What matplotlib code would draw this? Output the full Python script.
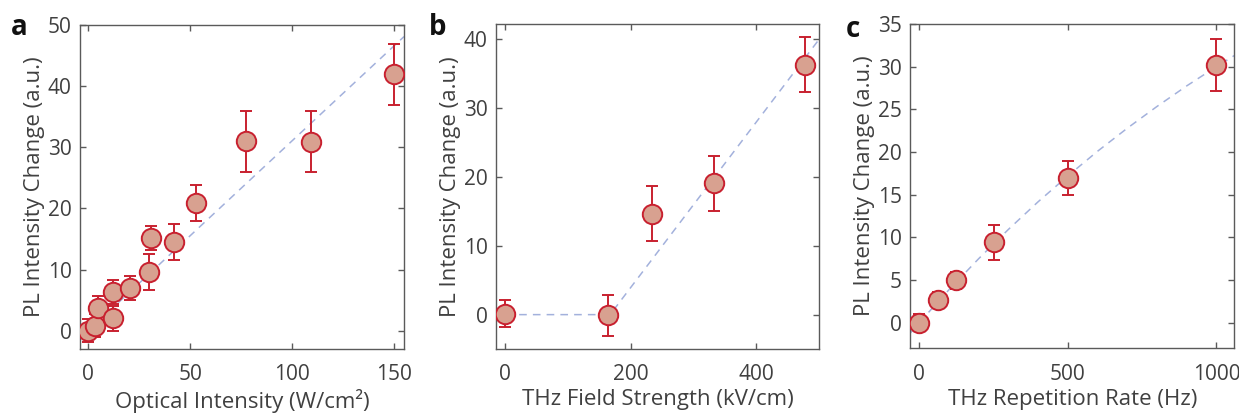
import matplotlib
matplotlib.use("Agg")
import matplotlib.pyplot as plt

plt.rcParams['font.family'] = ['Open Sans', 'DejaVu Sans']

# ---- Panel a data ----
a_x = [0, 3.4, 4.7, 12.1, 12.1, 20.4, 29.9, 30.9, 42, 52.8, 77.5, 109.2, 150]
a_y = [0.0, 0.8, 3.7, 2.0, 6.3, 7.0, 9.6, 15.2, 14.5, 20.9, 31.0, 30.9, 41.9]
a_err = [1.9, 1.9, 1.9, 2.1, 2.0, 2.0, 3.0, 2.0, 3.0, 3.0, 5.0, 5.0, 5.0]
a_fit_x = [0, 155]
a_fit_y = [0, 48.1]

# ---- Panel b data ----
b_x = [0, 163, 233, 333, 477]
b_y = [0.15, -0.1, 14.65, 19.1, 36.3]
b_err = [2.0, 3.0, 4.0, 4.0, 4.0]
b_fit_x = [0, 167, 500]
b_fit_y = [0, 0, 40]

# ---- Panel c data ----
c_x = [0, 62.5, 125, 250, 500, 1000]
c_y = [0.0, 2.66, 5.0, 9.4, 17.0, 30.2]
c_err = [1.0, 0.95, 1.0, 2.0, 2.0, 3.0]
c_fit_x = [-30, 0, 100, 200, 300, 400, 500, 600, 700, 800, 900, 1000, 1060]
c_fit_y = [-1.2, 0.0, 3.86, 7.5, 10.93, 14.17, 17.2, 20.09, 22.79, 25.34, 27.75, 30.01, 31.3]

face = '#D8A190'
edge = '#C8202F'
fitc = '#A3B1DC'
txt = '#404040'
spine = '#5A5A5A'

fig = plt.figure(figsize=(12.39, 4.16), dpi=100)

panels = [
    dict(pos=[0.0646, 0.161, 0.2615, 0.779], x=a_x, y=a_y, e=a_err, fx=a_fit_x, fy=a_fit_y,
         xlim=(-4, 155), ylim=(-3, 50), xt=[0, 50, 100, 150], yt=[0, 10, 20, 30, 40, 50],
         xl='Optical Intensity (W/cm²)', letter='a', lpos=(11, 35)),
    dict(pos=[0.4003, 0.161, 0.2607, 0.7805], x=b_x, y=b_y, e=b_err, fx=b_fit_x, fy=b_fit_y,
         xlim=(-15, 500), ylim=(-5, 42.2), xt=[0, 200, 400], yt=[0, 10, 20, 30, 40],
         xl='THz Field Strength (kV/cm)', letter='b', lpos=(429, 35)),
    dict(pos=[0.7347, 0.1627, 0.2615, 0.7796], x=c_x, y=c_y, e=c_err, fx=c_fit_x, fy=c_fit_y,
         xlim=(-30, 1060), ylim=(-3, 35), xt=[0, 500, 1000], yt=[0, 5, 10, 15, 20, 25, 30, 35],
         xl='THz Repetition Rate (Hz)', letter='c', lpos=(846, 37)),
]

for p in panels:
    ax = fig.add_axes(p['pos'])
    ax.plot(p['fx'], p['fy'], linestyle=(0, (5, 4)), color=fitc, lw=1.1, zorder=1)
    ax.errorbar(p['x'], p['y'], yerr=p['e'], fmt='o', ms=14, mfc=face, mec=edge, mew=1.4,
                ecolor=edge, elinewidth=1.4, capsize=4, capthick=1.4, zorder=3)
    ax.set_xlim(*p['xlim'])
    ax.set_ylim(*p['ylim'])
    ax.set_xticks(p['xt'])
    ax.set_yticks(p['yt'])
    ax.tick_params(direction='in', top=True, right=True, length=4, width=1.0, color=spine,
                   labelsize=15, labelcolor=txt)
    ax.tick_params(axis='x', pad=11)
    ax.tick_params(axis='y', pad=6)
    for s in ax.spines.values():
        s.set_color(spine)
        s.set_linewidth(1.0)
    ax.set_xlabel(p['xl'], fontsize=16, color=txt, labelpad=3)
    ax.set_ylabel('PL Intensity Change (a.u.)', fontsize=16, color=txt, labelpad=2)
    fig.text(p['lpos'][0] / 1239, 1 - p['lpos'][1] / 416, p['letter'], fontsize=20,
             fontweight='bold', color='#111111', ha='left', va='baseline')

fig.savefig('out.png', dpi=100)
